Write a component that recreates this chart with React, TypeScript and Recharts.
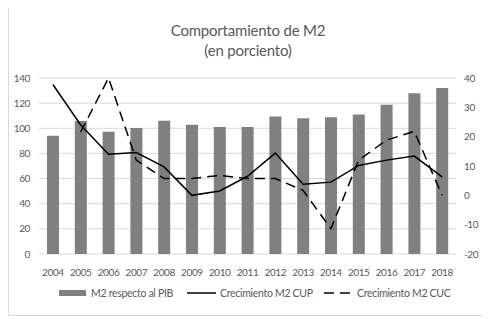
import { ComposedChart, Bar, Line, XAxis, YAxis, CartesianGrid, Legend } from 'recharts'

const years = ['2004', '2005', '2006', '2007', '2008', '2009', '2010', '2011', '2012', '2013', '2014', '2015', '2016', '2017', '2018']
const m2Pib = [94, 105.8, 97.3, 100.2, 106, 102.9, 101, 101, 109.3, 108, 108.8, 111, 118.8, 127.8, 132]
const cup = [37.8, 24, 14, 14.6, 9.7, 0, 1.5, 6.5, 14.4, 3.8, 4.5, 10.2, 12, 13.4, 6.3]
const cuc = [null, 21.6, 40, 12, 5.7, 5.7, 6.8, 5.7, 5.7, 1.7, -11.4, 12, 18.8, 21.8, 0]

const leftTicks = [0, 20, 40, 60, 80, 100, 120, 140]
const rightTicks = [-20, -10, 0, 10, 20, 30, 40]

const data = years.map((year, i) => ({ year, m2: m2Pib[i], cup: cup[i], cuc: cuc[i] }))

const TEXT = '#595959'
const FONT = 'Lato, "Open Sans", sans-serif'
const tick = { fill: TEXT, fontSize: 10, fontFamily: FONT, letterSpacing: -0.4 }

function LegendContent() {
  const item = { display: 'flex', alignItems: 'center', fontSize: 10.5, color: TEXT, whiteSpace: 'nowrap' as const, letterSpacing: -0.3 }
  return (
    <div style={{ display: 'flex', fontFamily: FONT, paddingLeft: 50 }}>
      <div style={{ ...item, width: 128 }}>
        <svg width={27} height={8} style={{ marginRight: 5 }}>
          <rect x={0} y={1} width={27} height={6} fill="#808080" />
        </svg>
        M2 respecto al PIB
      </div>
      <div style={{ ...item, width: 137 }}>
        <svg width={29} height={8} style={{ marginRight: 4 }}>
          <line x1={0} y1={4} x2={29} y2={4} stroke="#000" strokeWidth={1.5} />
        </svg>
        Crecimiento M2 CUP
      </div>
      <div style={item}>
        <svg width={27} height={8} style={{ marginRight: 6 }}>
          <line x1={0} y1={4} x2={27} y2={4} stroke="#000" strokeWidth={1.5} strokeDasharray="10 6" />
        </svg>
        Crecimiento M2 CUC
      </div>
    </div>
  )
}

export default function App() {
  return (
    <div style={{ position: 'relative', width: 478, height: 308, border: '1px solid #d9d9d9', marginTop: -2, background: '#fff' }}>
      <div style={{ position: 'absolute', top: 13, left: 0, width: 478, textAlign: 'center', fontFamily: FONT, fontSize: 15, lineHeight: '20px', color: TEXT, letterSpacing: -0.2 }}>
        Comportamiento de M2
        <br />
        (en porciento)
      </div>
      <ComposedChart width={478} height={308} data={data} margin={{ top: 71, right: 0, bottom: 10, left: 0 }}>
        <CartesianGrid yAxisId="left" vertical={false} stroke="#d9d9d9" />
        <XAxis dataKey="year" axisLine={false} tickLine={false} tick={tick} height={33} tickMargin={9} interval={0} />
        <YAxis yAxisId="left" domain={[0, 140]} ticks={leftTicks} axisLine={false} tickLine={false} width={30} tick={tick} tickMargin={3} />
        <YAxis yAxisId="right" orientation="right" domain={[-20, 40]} ticks={rightTicks} axisLine={false} tickLine={false} width={31} tick={tick} tickMargin={2} />
        <Bar yAxisId="left" dataKey="m2" fill="#808080" barSize={12} isAnimationActive={false} />
        <Line yAxisId="right" dataKey="cup" stroke="#000" strokeWidth={1.5} dot={false} isAnimationActive={false} />
        <Line yAxisId="right" dataKey="cuc" stroke="#000" strokeWidth={1.5} strokeDasharray="10 6" dot={false} isAnimationActive={false} />
        <Legend verticalAlign="bottom" height={18} content={<LegendContent />} />
      </ComposedChart>
    </div>
  )
}
